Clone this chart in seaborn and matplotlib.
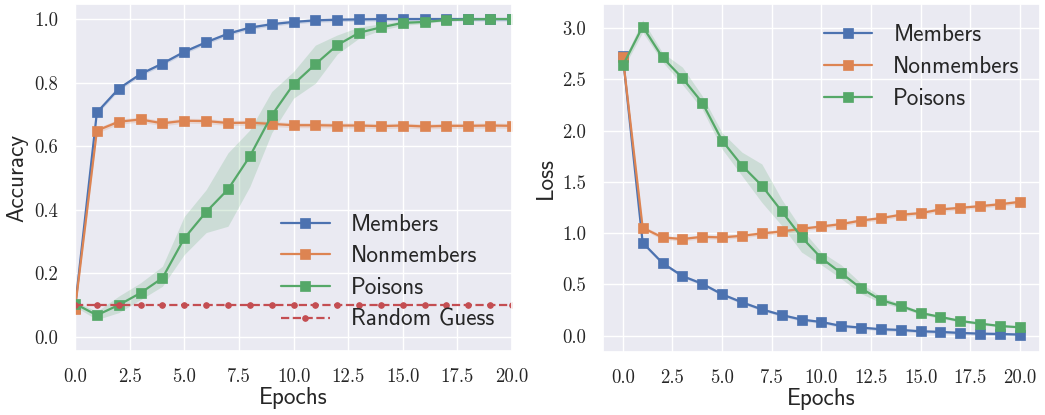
import numpy as np
import pandas as pd
import matplotlib
matplotlib.use("Agg")
import matplotlib.pyplot as plt
import seaborn as sns

epochs = list(range(21))

# Accuracy panel
acc_members = [0.091, 0.706, 0.781, 0.827, 0.860, 0.897, 0.927, 0.954, 0.973, 0.984, 0.991,
               0.996, 0.998, 0.999, 1.0, 1.0, 1.0, 1.0, 1.0, 1.0, 1.0]
acc_nonmembers = [0.088, 0.649, 0.677, 0.684, 0.672, 0.680, 0.679, 0.673, 0.674, 0.670, 0.666,
                  0.666, 0.665, 0.665, 0.663, 0.665, 0.662, 0.664, 0.664, 0.665, 0.664]
acc_poisons = [0.104, 0.068, 0.100, 0.138, 0.185, 0.310, 0.393, 0.464, 0.568, 0.697, 0.795,
               0.858, 0.918, 0.957, 0.974, 0.988, 0.991, 0.997, 0.999, 1.0, 1.0]
acc_poisons_lo = [0.095, 0.054, 0.076, 0.117, 0.159, 0.259, 0.328, 0.348, 0.473, 0.642, 0.751,
                  0.798, 0.890, 0.940, 0.965, 0.980, 0.986, 0.994, 0.997, 0.999, 0.999]
acc_poisons_hi = [0.112, 0.080, 0.128, 0.170, 0.222, 0.379, 0.463, 0.579, 0.651, 0.772, 0.835,
                  0.918, 0.950, 0.975, 0.985, 0.995, 0.996, 0.999, 1.0, 1.0, 1.0]
random_guess = [0.1] * 21

# Loss panel
loss_members = [2.73, 0.906, 0.708, 0.581, 0.506, 0.403, 0.325, 0.256, 0.201, 0.156, 0.133,
                0.094, 0.078, 0.062, 0.055, 0.042, 0.036, 0.026, 0.019, 0.016, 0.010]
loss_nonmembers = [2.72, 1.052, 0.958, 0.942, 0.964, 0.958, 0.974, 0.997, 1.016, 1.042, 1.065,
                   1.088, 1.123, 1.146, 1.179, 1.195, 1.231, 1.247, 1.263, 1.282, 1.305]
loss_poisons = [2.636, 3.016, 2.714, 2.513, 2.273, 1.903, 1.659, 1.464, 1.214, 0.961, 0.756,
                0.610, 0.461, 0.347, 0.289, 0.221, 0.182, 0.143, 0.117, 0.094, 0.081]
loss_poisons_lo = [2.60, 2.96, 2.67, 2.45, 2.21, 1.82, 1.56, 1.30, 1.075, 0.815, 0.69,
                   0.555, 0.41, 0.32, 0.27, 0.205, 0.168, 0.130, 0.105, 0.084, 0.072]
loss_poisons_hi = [2.67, 3.08, 2.76, 2.62, 2.34, 1.98, 1.79, 1.675, 1.33, 1.04, 0.815,
                   0.69, 0.51, 0.38, 0.31, 0.238, 0.196, 0.156, 0.129, 0.104, 0.090]

sns.set_theme(style="darkgrid")
plt.rcParams["font.family"] = ["cmss10", "DejaVu Sans"]
plt.rcParams["axes.unicode_minus"] = False
plt.rcParams["mathtext.fontset"] = "cm"

pal = sns.color_palette("deep")
c_mem, c_non, c_poi, c_rg = pal[0], pal[1], pal[2], pal[3]

fig = plt.figure(figsize=(10.45, 4.15), dpi=100)
ax1 = fig.add_axes([0.0718, 0.154, 0.4182, 0.836])
ax2 = fig.add_axes([0.577, 0.152, 0.418, 0.838])

lw = 1.6
ms = 7.5
fs = 16.7


def draw(ax, y, color, label, lo=None, hi=None, spread=0.0):
    sns.lineplot(x=epochs, y=y, ax=ax, color=color, marker="s", markersize=ms,
                 markeredgecolor=color, markeredgewidth=0.5, linewidth=lw, label=label)
    if lo is None:
        lo = [v - spread for v in y]
        hi = [v + spread for v in y]
    ax.fill_between(epochs, lo, hi, color=color, alpha=0.2, linewidth=0)


draw(ax1, acc_members, c_mem, "Members", spread=0.006)
draw(ax1, acc_nonmembers, c_non, "Nonmembers", spread=0.008)
draw(ax1, acc_poisons, c_poi, "Poisons", acc_poisons_lo, acc_poisons_hi)
sns.lineplot(x=epochs, y=random_guess, ax=ax1, color=c_rg, linestyle="--", marker="o",
             markersize=4, markeredgecolor=c_rg, linewidth=lw, label="Random Guess")

draw(ax2, loss_members, c_mem, "Members", spread=0.015)
draw(ax2, loss_nonmembers, c_non, "Nonmembers", spread=0.02)
draw(ax2, loss_poisons, c_poi, "Poisons", loss_poisons_lo, loss_poisons_hi)

ax1.set_xlim(0, 20)
ax1.set_ylim(-0.045, 1.047)
ax1.set_xticks(np.arange(0, 20.1, 2.5))
ax1.set_yticks(np.arange(0, 1.01, 0.2))
ax2.set_xticks(np.arange(0, 20.1, 2.5))
ax2.set_yticks(np.arange(0, 3.01, 0.5))
ax2.set_xlim(-1, 21)

for ax, yl in [(ax1, "Accuracy"), (ax2, "Loss")]:
    ax.set_xlabel("Epochs", fontsize=fs, labelpad=1)
    ax.set_ylabel(yl, fontsize=fs, labelpad=4)
    ax.tick_params(labelsize=13.5, labelfontfamily="cmr10", pad=6)

ax1.legend(loc="lower right", frameon=False, fontsize=fs, handlelength=2.1,
           handletextpad=0.9, borderaxespad=0.2, labelspacing=0.42,
           bbox_to_anchor=(0.99, 0.018))
ax2.legend(loc="upper right", frameon=False, fontsize=fs, handlelength=2.1,
           handletextpad=0.9, borderaxespad=0.2, labelspacing=0.42,
           bbox_to_anchor=(0.986, 0.982))

fig.savefig("out.png", dpi=100)
